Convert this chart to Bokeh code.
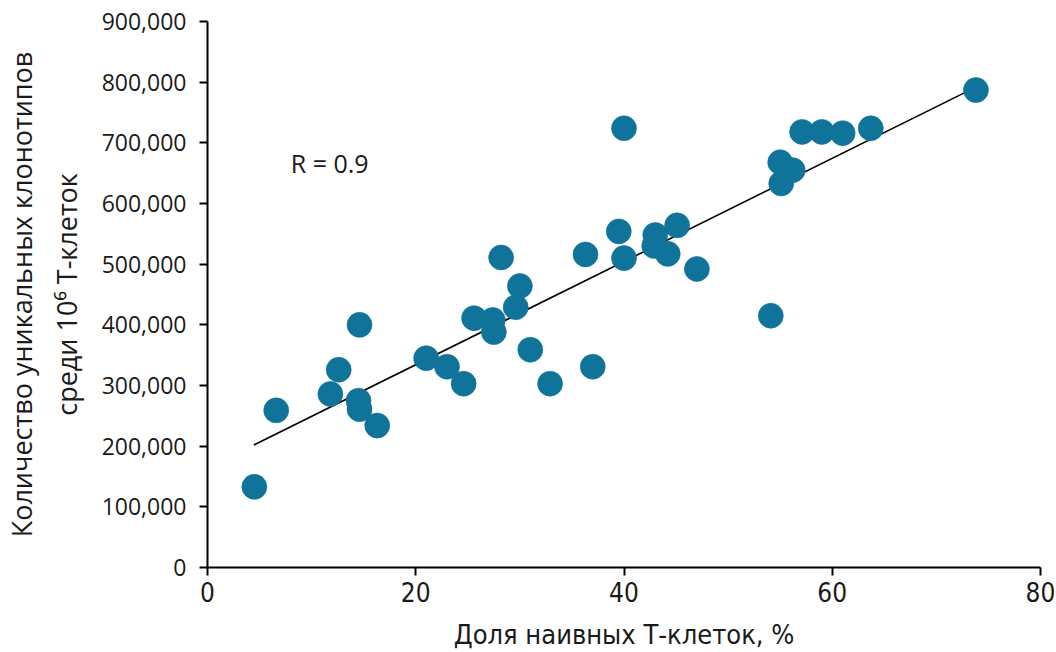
from bokeh.plotting import figure
from bokeh.models import Label, NumeralTickFormatter, FixedTicker, Range1d, ColumnDataSource
from bokeh.embed import file_html
from bokeh.resources import INLINE

naive_pct = [4.5, 6.6, 11.8, 12.6, 14.6, 14.5, 14.6, 16.3, 21.0, 23.0, 24.6, 25.6, 27.4, 27.5,
             28.2, 29.6, 30.0, 31.0, 32.9, 36.3, 37.0, 39.5, 40.0, 40.0, 42.9, 43.0, 44.2,
             45.1, 47.0, 54.1, 55.0, 55.1, 56.2, 57.1, 59.0, 61.0, 63.7, 73.8]
clonotypes = [133000, 259000, 286000, 326000, 400000, 275000, 261000, 234000, 345000, 331000,
              303000, 411000, 408000, 388000, 511000, 429000, 464000, 359000, 303000, 516000,
              331000, 554000, 510000, 724000, 530000, 548000, 517000, 564000, 492000, 415000,
              668000, 633000, 655000, 718000, 718000, 716000, 724000, 787000]
trend_x = [4.45, 73.7]
trend_y = [202000, 791000]
x_ticks = [0, 20, 40, 60, 80]
y_ticks = [0, 100000, 200000, 300000, 400000, 500000, 600000, 700000, 800000, 900000]
r_text = "R = 0.9"
x_title = "Доля наивных Т-клеток, %"
y_title = "Количество уникальных клонотипов\nсреди 10⁶ Т-клеток"

FONT = "Open Sans"
NARROW = "Liberation Sans Narrow, DejaVu Sans Condensed, Open Sans"

p = figure(frame_width=833, frame_height=546, output_backend="svg", toolbar_location=None,
           x_range=Range1d(0, 80), y_range=Range1d(0, 900000),
           min_border_left=205, min_border_right=18, min_border_top=21, min_border_bottom=85)
p.outline_line_color = None
p.xgrid.grid_line_color = None
p.ygrid.grid_line_color = None
p.background_fill_color = "white"
p.border_fill_color = "white"

for ax in (p.xaxis[0], p.yaxis[0]):
    ax.axis_line_width = 2
    ax.axis_line_color = "black"
    ax.major_tick_line_width = 2
    ax.major_tick_line_color = "black"
    ax.major_tick_out = 8
    ax.major_tick_in = 0
    ax.minor_tick_line_color = None
    ax.major_label_text_color = "#1a1a1a"

p.xaxis.ticker = FixedTicker(ticks=x_ticks)
p.yaxis.ticker = FixedTicker(ticks=y_ticks)
p.yaxis.formatter = NumeralTickFormatter(format="0,0")
p.yaxis.major_label_text_font = FONT
p.yaxis.major_label_text_font_size = "23px"
p.yaxis.major_label_standoff = 13
p.yaxis.axis_label = y_title
p.yaxis.axis_label_text_font = FONT
p.yaxis.axis_label_text_font_style = "normal"
p.yaxis.axis_label_text_font_size = "27px"
p.yaxis.axis_label_text_color = "#1a1a1a"
p.yaxis.axis_label_standoff = 14
p.xaxis.major_label_text_font = NARROW
p.xaxis.major_label_text_font_size = "26px"
p.xaxis.major_label_standoff = 6
p.xaxis.axis_label = x_title
p.xaxis.axis_label_text_font = NARROW
p.xaxis.axis_label_text_font_style = "normal"
p.xaxis.axis_label_text_font_size = "27px"
p.xaxis.axis_label_text_color = "#1a1a1a"
p.xaxis.axis_label_standoff = 14

src = ColumnDataSource(data=dict(x=naive_pct, y=clonotypes))
p.line(trend_x, trend_y, line_color="black", line_width=1.6)
p.scatter("x", "y", source=src, size=25, fill_color="#10739A", line_color="#10739A", line_alpha=0.6)

p.add_layout(Label(x=8.0, y=666000, text=r_text, text_font=FONT, text_font_size="25px",
                   text_baseline="middle", text_align="left", text_color="#1a1a1a"))

open("out.html", "w").write(file_html(p, INLINE))
